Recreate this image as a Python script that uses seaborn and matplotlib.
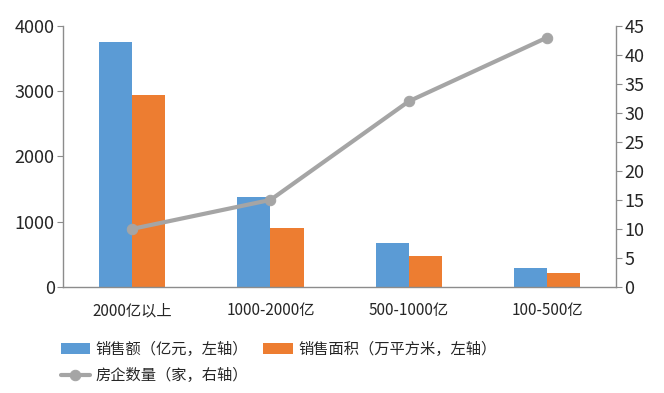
import numpy as np
import pandas as pd
import matplotlib
matplotlib.use("Agg")
import matplotlib.pyplot as plt
import seaborn as sns

categories = ["2000亿以上", "1000-2000亿", "500-1000亿", "100-500亿"]
sales_amount = [3760, 1380, 680, 290]      # 销售额（亿元，左轴）
sales_area = [2940, 900, 475, 220]          # 销售面积（万平方米，左轴）
firm_count = [10, 15, 32, 43]               # 房企数量（家，右轴）

label_amount = "销售额（亿元，左轴）"
label_area = "销售面积（万平方米，左轴）"
label_count = "房企数量（家，右轴）"

blue = "#5B9BD5"
orange = "#ED7D31"
gray = "#A5A5A5"
axis_color = "#8C8C8C"

sns.set_style("white")
plt.rcParams["font.family"] = ["Noto Sans CJK SC", "DejaVu Sans"]

df = pd.DataFrame({
    "cat": categories * 2,
    "value": sales_amount + sales_area,
    "series": [label_amount] * 4 + [label_area] * 4,
})

fig = plt.figure(figsize=(6.64, 3.93), dpi=100)
ax = fig.add_axes([0.095, 0.270, 0.833, 0.664])

sns.barplot(data=df, x="cat", y="value", hue="series", order=categories,
            palette=[blue, orange], width=0.48, saturation=1, linewidth=0,
            ax=ax)
ax.get_legend().remove()
ax.set_xlim(-0.5, 3.5)
ax.set_ylim(0, 4000)
ax.set_yticks([0, 1000, 2000, 3000, 4000])
ax.set_xlabel("")
ax.set_ylabel("")

ax2 = ax.twinx()
sns.lineplot(x=np.arange(len(categories)), y=firm_count, ax=ax2, color=gray,
             linewidth=3, marker="o", markersize=7.5, markeredgecolor=gray,
             legend=False)
ax2.set_ylim(0, 45)
ax2.set_yticks(range(0, 50, 5))
ax2.set_xlim(-0.5, 3.5)

for a in (ax, ax2):
    a.spines["top"].set_visible(False)
    for side in ["left", "right", "bottom"]:
        a.spines[side].set_color(axis_color)
        a.spines[side].set_linewidth(1.0)

ax.spines["right"].set_visible(False)
ax2.spines["left"].set_visible(False)
ax2.spines["bottom"].set_visible(False)

ax.set_xticks(range(len(categories)))
ax.set_xticklabels(categories, fontsize=11)
ax.set_xticks(np.arange(-0.5, 4.0, 1.0), minor=True)
ax.tick_params(axis="x", which="major", length=0, pad=11)
ax.tick_params(axis="x", which="minor", length=5, color=axis_color, direction="out")
ax.tick_params(axis="y", length=4, color=axis_color, labelsize=13, pad=2)
ax2.tick_params(axis="y", length=4, color=axis_color, labelsize=13, pad=2)

bar_handles, _ = ax.get_legend_handles_labels()
line_handle = ax2.lines[0]
handles = [bar_handles[0], line_handle, bar_handles[1]]
labels = [label_amount, label_count, label_area]
fig.legend(handles, labels, loc="upper left", bbox_to_anchor=(0.082, 0.148),
           ncol=2, frameon=False, fontsize=11, handlelength=1.9,
           handleheight=0.8, columnspacing=1.0, handletextpad=0.4,
           labelspacing=0.6, borderaxespad=0)

fig.savefig("out.png", dpi=100)
